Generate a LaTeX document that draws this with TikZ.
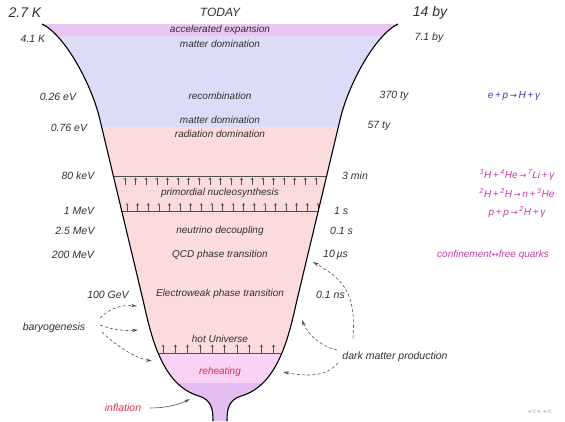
\documentclass[tikz,border=0pt]{standalone}
\usepackage{fontspec}
\setmainfont{Liberation Sans}
\newfontfamily\symfont{DejaVu Sans}
\usetikzlibrary{arrows.meta}
\definecolor{txt}{HTML}{303030}
\definecolor{accel}{HTML}{EAC6F3}
\definecolor{matter}{HTML}{DCDCF8}
\definecolor{radi}{HTML}{FBDBDB}
\definecolor{reheat}{HTML}{F8D3F6}
\definecolor{infl}{HTML}{E4BEF1}
\definecolor{redtxt}{HTML}{D8304C}
\definecolor{bluetxt}{HTML}{3A3AB0}
\definecolor{magtxt}{HTML}{C03CA8}
\definecolor{darrc}{HTML}{505050}
\definecolor{navc}{HTML}{B8B8D4}
\newcommand{\rarr}{{\symfont\fontsize{8.5}{10}\selectfont →}}
\newcommand{\lrarr}{{\symfont\fontsize{8.5}{10}\selectfont ↔}}
\tikzset{
  lbl/.style={text=txt, inner sep=0pt, font=\itshape\fontsize{10}{12}\selectfont},
  sidelbl/.style={text=txt, inner sep=0pt, font=\itshape\fontsize{10.5}{12}\selectfont},
  biglbl/.style={text=txt, inner sep=0pt, font=\itshape\fontsize{14}{16}\selectfont},
  edge/.style={line width=1.1pt, black},
  hatch/.style={line width=0.6pt, draw=darrc},
  tick/.style={line width=0.45pt, draw=darrc, -{Straight Barb[length=2pt,width=2.6pt]}},
  darr/.style={line width=0.6pt, draw=darrc, dash pattern=on 3pt off 2.2pt, -{Stealth[open,length=6pt,width=3.5pt]}},
  sarr/.style={line width=0.6pt, draw=darrc, -{Stealth[open,length=6pt,width=3.5pt]}},
}
\def\funnel{(42,24) .. controls (65,35) and (92,85) .. (100,120) -- (143,300) .. controls (150,330) and (160,385) .. (199,396) .. controls (211,400) and (213,408) .. (213,421) -- (227,421) .. controls (227,408) and (229,400) .. (241,396) .. controls (280,385) and (290,330) .. (297,300) -- (340,120) .. controls (348,85) and (375,35) .. (398,24) -- cycle}
\begin{document}
\begin{tikzpicture}[x=1pt,y=-1pt]
\useasboundingbox (0,0) rectangle (565,421);
% fills
\begin{scope}
\clip \funnel;
\fill[accel] (0,20) rectangle (565,36);
\fill[matter] (0,36) rectangle (565,127);
\fill[radi] (0,127) rectangle (565,353);
\fill[reheat] (0,353) rectangle (565,383);
\fill[infl] (0,383) rectangle (565,425);
% hatch lines
\draw[hatch] (0,176) -- (565,176);
\draw[hatch] (0,211) -- (565,211);
\draw[hatch] (0,353) -- (565,353);
\foreach \i in {0,...,18} {
  \draw[tick] (125+\i*10.6,185) -- (125+\i*10.6,177.5);
  \draw[tick] (127+\i*10.6,211) -- (127+\i*10.6,203);
}
\foreach \i in {0,...,9} {
  \draw[tick] (163+\i*12.3,353) -- (163+\i*12.3,344.5);
}
\end{scope}
% edges
\draw[edge] (42,24) .. controls (65,35) and (92,85) .. (100,120) -- (143,300) .. controls (150,330) and (160,385) .. (199,396) .. controls (211,400) and (213,408) .. (213,421);
\draw[edge] (398,24) .. controls (375,35) and (348,85) .. (340,120) -- (297,300) .. controls (290,330) and (280,385) .. (241,396) .. controls (229,400) and (227,408) .. (227,421);
% band labels
\node[lbl, font=\itshape\fontsize{12}{14}\selectfont] (today) at (220,12) {TODAY};
\node[lbl] (acc) at (220,30) {accelerated expansion};
\node[lbl] (md1) at (220,44) {matter domination};
\node[lbl] (rec) at (220,96) {recombination};
\node[lbl] (md2) at (220,120) {matter domination};
\node[lbl] (rd) at (220,134) {radiation domination};
\node[lbl] (nuc) at (220,193) {primordial nucleosynthesis};
\node[lbl] (nu) at (220,231) {neutrino decoupling};
\node[lbl] (qcd) at (220,255) {QCD phase transition};
\node[lbl] (ew) at (220,294) {Electroweak phase transition};
\node[lbl] (hot) at (220,339) {hot Universe};
\node[lbl, text=redtxt] (reh) at (220,372) {reheating};
% left labels
\node[biglbl] (t27) at (25,13) {2.7 K};
\node[sidelbl] (t41) at (33,39) {4.1 K};
\node[sidelbl] (e026) at (58,97) {0.26 eV};
\node[sidelbl] (e076) at (69,128) {0.76 eV};
\node[sidelbl] (e80) at (78,176) {80 keV};
\node[sidelbl] (e1) at (79,211) {1 MeV};
\node[sidelbl] (e25) at (75,231) {2.5 MeV};
\node[sidelbl] (e200) at (73,255) {200 MeV};
\node[sidelbl] (e100) at (108,295) {100 GeV};
\node[sidelbl] (bary) at (54,328) {baryogenesis};
\node[sidelbl, text=redtxt] (infl) at (123,408) {inflation};
% right labels
\node[biglbl] (a14) at (430,13) {14 by};
\node[sidelbl] (a71) at (429,38) {7.1 by};
\node[sidelbl] (a370) at (394,96) {370 ty};
\node[sidelbl] (a57) at (379,126) {57 ty};
\node[sidelbl, anchor=west] (a3m) at (342,176) {3 min};
\node[sidelbl, anchor=west] (a1s) at (334,211) {1 s};
\node[sidelbl, anchor=west] (a01s) at (330,231) {0.1 s};
\node[sidelbl, anchor=west] (a10) at (323,255) {10\,µs};
\node[sidelbl, anchor=west] (a01ns) at (316,295) {0.1 ns};
\node[sidelbl] (dm) at (395,357) {dark matter production};
% formulas
\node[lbl, text=bluetxt] (f1) at (514,96) {e\,+\,p\,\rarr\,H\,+\,γ};
\node[lbl, text=magtxt] (f2) at (517,175) {\textsuperscript{3}H\,+\,\textsuperscript{4}He\,\rarr\,\textsuperscript{7}Li\,+\,γ};
\node[lbl, text=magtxt] (f3) at (517,193) {\textsuperscript{2}H\,+\,\textsuperscript{2}H\,\rarr\,n\,+\,\textsuperscript{3}He};
\node[lbl, text=magtxt] (f4) at (517,212) {p\,+\,p\,\rarr\,\textsuperscript{2}H\,+\,γ};
\node[lbl, text=magtxt] (f5) at (493,255) {confinement\lrarr free quarks};
% arrow targets
\coordinate (b1) at (137,306);
\coordinate (b2) at (138,330);
\coordinate (b3) at (152,361);
\coordinate (i1) at (190,399);
\coordinate (d1) at (313,262);
\coordinate (d2) at (302,320);
\coordinate (d3) at (283,372);
% baryogenesis arrows
\draw[darr] ([shift={(46,-10)}]bary.center) .. controls (112,306) and (125,305) .. (b1);
\draw[darr] ([shift={(46,-3)}]bary.center) .. controls (113,330) and (125,331) .. (b2);
\draw[darr] ([shift={(48,4)}]bary.center) .. controls (115,345) and (135,358) .. (b3);
% inflation arrow
\draw[sarr] ([shift={(27,0)}]infl.center) .. controls (165,408) and (178,405) .. (i1);
% dark matter arrows
\draw[darr] ([shift={(-42,-19)}]dm.center) .. controls (356,295) and (345,280) .. (d1);
\draw[darr] ([shift={(-58,-7)}]dm.center) .. controls (322,347) and (308,335) .. (d2);
\draw[darr] ([shift={(-57,6)}]dm.center) .. controls (325,378) and (305,376) .. (d3);
% navigation symbols
\node[inner sep=0pt, text=navc, font=\symfont\fontsize{6}{7}\selectfont] (nav) at (540,412) {◂\,≡\,▸\,\,◂\,≡};
\end{tikzpicture}
\end{document}
